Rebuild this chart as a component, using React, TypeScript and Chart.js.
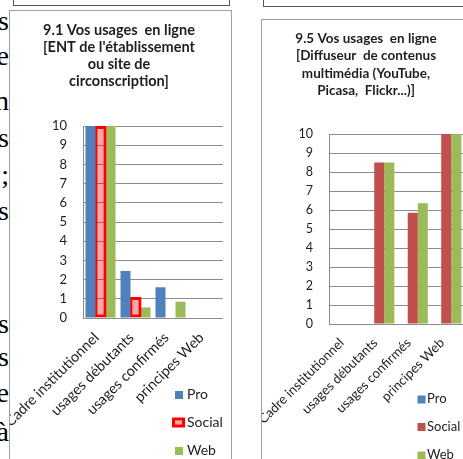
import React, { useEffect, useRef } from "react";
import { Chart, registerables } from "chart.js";
Chart.register(...registerables);

// ---- data ----
const categories = ["Cadre institutionnel", "usages débutants", "usages confirmés", "principes Web"];
const seriesNames = ["Pro", "Social", "Web"];
const yMin = 0;
const yMax = 10;
const yStep = 1;

const leftTitle = ["9.1 Vos usages  en ligne", "[ENT de l'établissement", "ou site de", "circonscription]"];
const leftPro = [10, 2.45, 1.6, 0];
const leftSocial = [10, 1.1, 0, 0];
const leftWeb = [10, 0.55, 0.85, 0];

const rightTitle = ["9.5 Vos usages  en ligne", "[Diffuseur  de contenus", "multimédia (YouTube,", "Picasa,  Flickr...)]"];
const rightPro = [0, 0, 0, 0];
const rightSocial = [0, 8.5, 5.85, 10];
const rightWeb = [0, 8.5, 6.35, 10];

const sideLetters = ["s", "e", "n", "s", ";", "s", "s", "s", "e", "à"];

// ---- styles ----
const BLUE = "#4f81bd";
const RED = "#c0504d";
const GREEN = "#9bbb59";
const HL_RED = "#ff0000";
const HL_FILL = "rgba(255,0,0,0.35)";
const GRID = "#8c8c8c";
const TEXT = "#1e1e1e";
const FONT = "Lato";

type LegendItem = { x: number; y: number; w: number; h: number; fill: string; border?: string; bw?: number; textX: number; base: number; label: string };

type PanelProps = {
  left: number; top: number; width: number; height: number;
  area: { l: number; t: number; r: number; b: number };
  datasets: any[];
  catPct: number;
  title: string[]; titleCx: number; titleBase0: number; titleStep: number; titleSize: number;
  tickSize: number; labelSize: number; legendSize: number; labelPad: number; labelShift: number;
  legend: LegendItem[];
};

function Panel(p: PanelProps) {
  const ref = useRef<HTMLCanvasElement>(null);
  useEffect(() => {
    const ox = p.left, oy = p.top;
    const overlay = {
      id: "overlay",
      afterDraw(chart: any) {
        const ctx = chart.ctx as CanvasRenderingContext2D;
        ctx.save();
        ctx.fillStyle = TEXT;
        ctx.font = `bold ${p.titleSize}px ${FONT}`;
        ctx.textAlign = "center";
        ctx.textBaseline = "alphabetic";
        p.title.forEach((line, i) => ctx.fillText(line, p.titleCx - ox, p.titleBase0 + i * p.titleStep - oy));
        ctx.textAlign = "left";
        ctx.font = `${p.legendSize}px ${FONT}`;
        for (const it of p.legend) {
          const b = it.bw || 0;
          if (it.border) {
            ctx.fillStyle = it.border;
            ctx.fillRect(it.x - ox, it.y - oy, it.w, it.h);
            ctx.fillStyle = "#ffffff";
            ctx.fillRect(it.x - ox + b, it.y - oy + b, it.w - 2 * b, it.h - 2 * b);
          }
          ctx.fillStyle = it.fill;
          ctx.fillRect(it.x - ox + b, it.y - oy + b, it.w - 2 * b, it.h - 2 * b);
          ctx.fillStyle = TEXT;
          ctx.fillText(it.label, it.textX - ox, it.base - oy);
        }
        ctx.restore();
      },
    };
    const chart = new Chart(ref.current!, {
      type: "bar",
      data: {
        labels: categories,
        datasets: p.datasets.map((d) => ({ categoryPercentage: p.catPct, barPercentage: 1, ...d })),
      },
      options: {
        animation: false,
        responsive: false,
        maintainAspectRatio: false,
        devicePixelRatio: 1,
        layout: { padding: { top: p.area.t - oy, left: 0, right: ox + p.width - p.area.r, bottom: 0 } },
        plugins: { legend: { display: false }, title: { display: false }, tooltip: { enabled: false } },
        scales: {
          x: {
            grid: { display: false, drawTicks: false },
            border: { display: false },
            ticks: {
              autoSkip: false, minRotation: 45, maxRotation: 45, padding: p.labelPad, labelOffset: p.labelShift,
              color: TEXT, font: { family: FONT, size: p.labelSize },
            },
            afterFit: (s: any) => {
              s.height = oy + p.height - p.area.b;
              s.paddingLeft = 0; s.paddingRight = 0; s.paddingTop = 0; s.paddingBottom = 0;
            },
          },
          y: {
            min: yMin, max: yMax,
            ticks: { stepSize: yStep, padding: 16, color: TEXT, font: { family: FONT, size: p.tickSize } },
            grid: { color: GRID, drawTicks: false },
            border: { color: GRID },
            afterFit: (s: any) => {
              s.width = p.area.l - ox;
              s.paddingTop = 0; s.paddingBottom = 0;
            },
          },
        },
      } as any,
      plugins: [overlay],
    });
    return () => chart.destroy();
  }, []);
  return (
    <canvas
      ref={ref}
      width={p.width}
      height={p.height}
      style={{ position: "absolute", left: p.left, top: p.top, width: p.width, height: p.height }}
    />
  );
}

const sideBaselines = [30, 65, 110, 147, 184, 220, 333, 366, 402, 441];

export default function App() {
  const leftDatasets = [
    { label: seriesNames[0], data: leftPro, backgroundColor: BLUE },
    { label: seriesNames[1], data: leftSocial, backgroundColor: HL_FILL, borderColor: HL_RED, borderWidth: 3, borderSkipped: false, barPercentage: 1.2 },
    { label: seriesNames[2], data: leftWeb, backgroundColor: GREEN },
  ];
  const rightDatasets = [
    { label: seriesNames[0], data: rightPro, backgroundColor: BLUE },
    { label: seriesNames[1], data: rightSocial, backgroundColor: RED },
    { label: seriesNames[2], data: rightWeb, backgroundColor: GREEN },
  ];
  const leftLegend: LegendItem[] = [
    { x: 175, y: 391, w: 8, h: 8, fill: BLUE, textX: 187, base: 399, label: seriesNames[0] },
    { x: 172, y: 417.5, w: 13, h: 10, fill: HL_FILL, border: HL_RED, bw: 3, textX: 187, base: 427, label: seriesNames[1] },
    { x: 175, y: 447, w: 8, h: 8, fill: GREEN, textX: 187, base: 455, label: seriesNames[2] },
  ];
  const rightLegend: LegendItem[] = [
    { x: 417.5, y: 395.5, w: 8, h: 8, fill: BLUE, textX: 427, base: 403, label: seriesNames[0] },
    { x: 417.5, y: 423, w: 8, h: 8, fill: RED, textX: 427, base: 431, label: seriesNames[1] },
    { x: 417.5, y: 451.5, w: 8, h: 8, fill: GREEN, textX: 427, base: 459, label: seriesNames[2] },
  ];
  return (
    <div style={{ position: "fixed", left: 0, top: 0, width: 463, height: 459, overflow: "hidden", background: "#fff" }}>
      {sideLetters.map((ch, i) => (
        <div
          key={i}
          style={{
            position: "absolute", right: 454, top: sideBaselines[i] - 23.5, fontFamily: "'Liberation Serif', serif",
            fontSize: 28, lineHeight: "28px", color: "#000", whiteSpace: "pre",
          }}
        >
          {ch}
        </div>
      ))}
      <div style={{ position: "absolute", left: 13, top: -10, width: 217, height: 16, boxSizing: "border-box", border: "1px solid #555" }} />
      <div style={{ position: "absolute", left: 263, top: -10, width: 300, height: 17, boxSizing: "border-box", border: "1px solid #555" }} />
      <div style={{ position: "absolute", left: 9, top: 10, width: 223, height: 500, boxSizing: "border-box", border: "1px solid #a0a0a0" }} />
      <div style={{ position: "absolute", left: 261, top: 19, width: 300, height: 500, boxSizing: "border-box", border: "1px solid #a0a0a0" }} />
      <Panel
        left={10} top={11} width={220} height={448}
        area={{ l: 83, t: 126, r: 223, b: 318 }}
        datasets={leftDatasets} catPct={0.857}
        title={leftTitle} titleCx={119} titleBase0={34.5} titleStep={17.2} titleSize={14.5}
        tickSize={13} labelSize={14.5} legendSize={14} labelPad={11} labelShift={-4}
        legend={leftLegend}
      />
      <Panel
        left={262} top={20} width={201} height={439}
        area={{ l: 329, t: 134, r: 463, b: 324 }}
        datasets={rightDatasets} catPct={0.9}
        title={rightTitle} titleCx={366} titleBase0={42.7} titleStep={17.5} titleSize={13.5}
        tickSize={12.5} labelSize={13.2} legendSize={13} labelPad={11} labelShift={-4}
        legend={rightLegend}
      />
    </div>
  );
}
